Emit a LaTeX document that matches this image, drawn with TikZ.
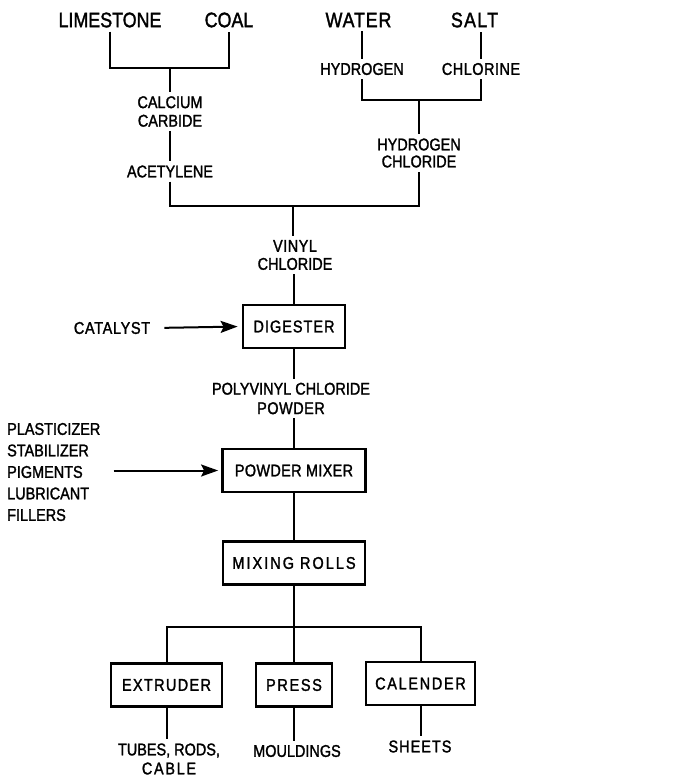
\documentclass[tikz,border=0pt]{standalone}
\usepackage{fontspec}
\setmainfont{Liberation Sans}[FakeStretch=0.85, FakeBold=1.5]
\usetikzlibrary{arrows.meta}
\newcommand{\spc}[1]{\addfontfeature{LetterSpace=#1}}
\begin{document}
\begin{tikzpicture}[x=1pt,y=-1pt,
  big/.style={font=\fontsize{21}{24}\selectfont, inner sep=4pt},
  lbl/.style={font=\fontsize{17}{18.5}\selectfont, inner sep=4pt, align=center},
  unit/.style={draw, line width=2.8pt, font=\fontsize{17}{19}\selectfont,
    inner sep=0pt, minimum height=43pt},
  wire/.style={line width=2pt},
  feed/.style={line width=2pt, -{Stealth[length=17pt,width=12pt,inset=3pt]}}]
\useasboundingbox (0,0) rectangle (689,777);

% raw materials
\node[big] (lime)  at (110,20) {LIMESTONE};
\node[big] (coal)  at (229,20) {COAL};
\node[big] (water) at (358.5,20) {{\spc{4}WATER}};
\node[big] (salt)  at (474.5,20) {{\spc{6}SALT}};

% intermediates
\node[lbl] (hyd) at (362,69) {HYDROGEN};
\node[lbl] (chl) at (481,69) {{\spc{3}CHLORINE}};
\node[lbl] (cc)  at (170,111.5) {CALCIUM\\CARBIDE};
\node[lbl] (acet) at (170,171.5) {ACETYLENE};
\node[lbl, font=\fontsize{17}{17}\selectfont] (hcl) at (419,153) {HYDROGEN\\CHLORIDE};
\node[lbl, font=\fontsize{17}{18}\selectfont] (vinyl) at (295,255) {{\spc{3}VINYL}\\CHLORIDE};

% junctions
\coordinate (j1) at (170,68);
\coordinate (j2) at (419,100);
\coordinate (j3) at (293,206);
\coordinate (j4) at (294,627);

% processing units
\node[unit, minimum width=102pt] (dig) at (294,326.5) {{\spc{6}DIGESTER}};
\node[lbl] (cat) at (112,328) {{\spc{4}CATALYST}};
\node[lbl, font=\fontsize{17}{19.5}\selectfont] (pvc) at (291,398.5) {POLYVINYL CHLORIDE\\{\spc{3}POWDER}};
\node[unit, minimum width=143pt] (mixer) at (294,470.5) {{\spc{2}POWDER MIXER}};
\node[lbl, align=left, anchor=west, font=\fontsize{17}{21.5}\selectfont, inner xsep=0pt]
  (adds) at (7,472) {PLASTICIZER\\STABILIZER\\PIGMENTS\\LUBRICANT\\FILLERS};
\node[unit, minimum width=142pt] (rolls) at (294,563) {{\spc{12}MIXING ROLLS}};
\node[unit, minimum width=111pt] (ext) at (166.5,685) {{\spc{8}EXTRUDER}};
\node[unit, minimum width=76pt] (press) at (294,685) {{\spc{10}PRESS}};
\node[unit, minimum width=109pt] (cal) at (420.5,683.5) {{\spc{10}CALENDER}};

% products
\node[lbl, font=\fontsize{17}{19}\selectfont] (tubes) at (169,759) {TUBES, RODS,\\{\spc{10}CABLE}};
\node[lbl] (mould) at (297,751) {MOULDINGS};
\node[lbl] (sheets) at (420,746.5) {{\spc{6}SHEETS}};

% connectors
\draw[wire] (lime.south) |- (j1) -| (coal.south);
\draw[wire] (j1) -- (cc.north);
\draw[wire] (cc.south) -- (acet.north);
\draw[wire] (hyd.north) -- (hyd.north |- water.south);
\draw[wire] (chl.north) -- (chl.north |- salt.south);
\draw[wire] (hyd.south) |- (j2) -| (chl.south);
\draw[wire] (j2) -- (hcl.north);
\draw[wire] (acet.south) |- (j3) -| (hcl.south);
\draw[wire] (j3) -- (j3 |- vinyl.north);
\draw[wire] (dig.north |- vinyl.south) -- (dig.north);
\draw[feed, shorten <=10pt, shorten >=4pt] (cat.east) -- (dig.west);
\draw[wire] (dig.south) -- (dig.south |- pvc.north);
\draw[wire] (mixer.north |- pvc.south) -- (mixer.north);
\draw[feed, shorten <=13pt, shorten >=3pt] (adds.east |- mixer.west) -- (mixer.west);
\draw[wire] (mixer.south) -- (rolls.north);
\draw[wire] (rolls.south) -- (j4);
\draw[wire] (ext.north) |- (j4) -| (cal.north);
\draw[wire] (j4) -- (press.north);
\draw[wire] (ext.south) -- (ext.south |- tubes.north);
\draw[wire] (press.south) -- (press.south |- mould.north);
\draw[wire] (cal.south) -- (cal.south |- sheets.north);
\end{tikzpicture}
\end{document}
